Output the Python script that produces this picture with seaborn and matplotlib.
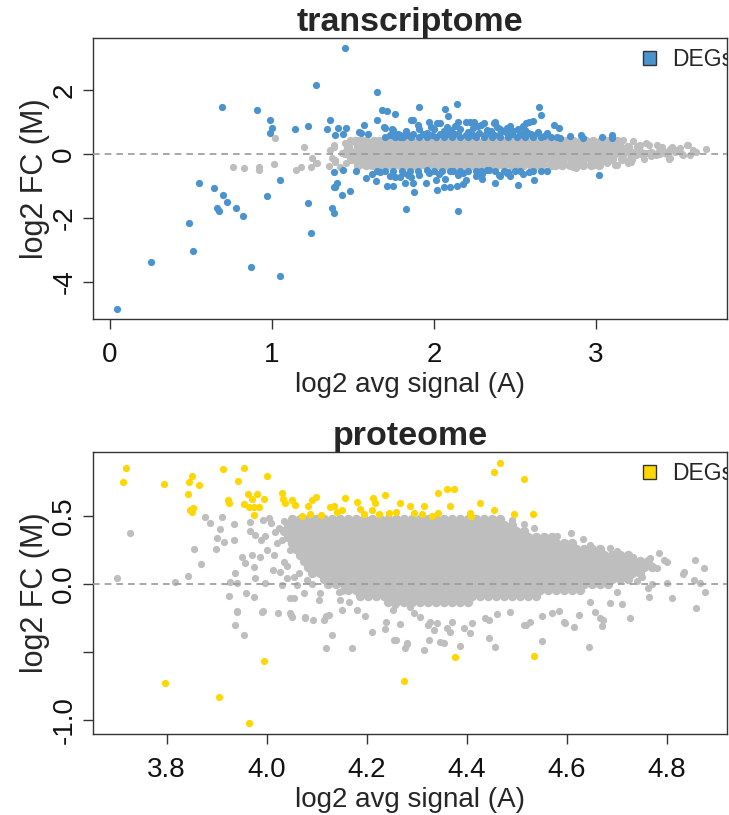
import pandas as pd
import seaborn as sns
import matplotlib.pyplot as plt
from matplotlib.patches import Patch

# ---- transcriptome (A = log2 avg signal, M = log2 FC) ----
trans_deg = [
    (0.04, -4.84), (0.25, -3.39), (0.51, -3.02), (0.49, -2.17), (0.55, -0.91), (0.64, -1.07),
    (0.70, -1.28), (0.72, -1.49), (0.66, -1.70), (0.67, -1.78), (0.78, -1.70), (0.82, -1.93),
    (0.87, -3.53), (1.05, -3.83), (0.97, -1.33), (1.05, -0.81), (1.22, -1.54), (1.24, -2.47),
    (1.37, -1.70), (1.38, -1.84), (1.39, -1.02), (1.40, -0.92), (1.43, -1.30), (1.48, -1.17),
    (1.38, -0.58), (1.44, -0.50), (1.52, -0.55), (1.62, -0.63), (1.67, -0.58), (1.71, -1.00),
    (1.75, -0.99), (1.82, -0.90), (1.83, -1.73), (1.88, -1.19), (1.38, -1.04),
    (1.45, 3.30), (1.27, 2.14), (1.65, 1.94), (0.69, 1.46), (0.91, 1.38), (0.99, 1.06),
    (1.00, 0.82), (0.99, 0.66), (1.14, 0.78), (1.22, 0.88), (1.36, 1.06), (1.34, 0.78),
    (1.41, 0.82), (1.46, 0.82), (1.39, 0.59), (1.55, 0.66), (1.57, 0.89), (1.59, 0.62),
    (1.65, 1.06), (1.68, 1.38), (1.71, 1.34), (1.76, 1.24), (1.87, 1.05), (1.70, 0.81),
    (1.74, 0.79), (1.75, 0.59), (1.79, 0.54), (1.83, 0.65), (1.91, 1.46), (1.44, 0.63),
    (1.54, 0.67), (1.69, 0.83), (1.75, 0.75), (1.83, 0.73),
    (2.07, 1.40), (2.14, 1.56), (2.09, 1.17), (2.02, 0.96), (2.22, 1.01), (2.31, 0.98),
    (2.39, 0.85), (2.59, 1.01), (2.65, 1.48), (2.66, 1.23), (2.57, 0.96), (2.74, 0.91),
    (2.77, 0.80), (2.91, 0.59), (3.04, 0.54), (3.10, 0.59), (3.10, 0.51), (2.92, 0.51),
    (2.78, 0.51), (2.76, 0.53), (2.70, 0.65), (2.61, 1.04), (2.55, 0.88), (2.38, 0.99),
    (2.45, 0.80), (1.97, 0.99), (2.04, 0.96), (2.15, 0.99), (2.20, 1.01), (2.25, 0.99),
    (2.29, 0.91), (2.37, 0.96), (1.91, 0.78), (2.00, 0.77), (2.08, 0.83), (2.16, 0.77),
    (2.24, 0.80), (2.33, 0.75), (2.41, 0.77), (1.79, 0.59), (1.87, 0.63), (1.96, 0.65),
    (2.04, 0.63), (2.12, 0.65), (2.20, 0.59), (2.28, 0.65), (2.37, 0.59), (2.45, 0.65),
    (1.73, 0.59), (1.98, 0.85), (2.10, 0.75), (2.49, 0.70), (2.53, 0.62), (2.58, 0.66),
    (2.62, 0.58), (2.68, 0.55), (2.47, 0.88), (2.52, 0.78), (2.43, 0.72), (2.13, 0.88),
    (2.27, 0.86), (2.35, 0.70), (1.90, 0.90), (2.06, 0.70), (2.21, 0.69), (2.56, 0.74),
    (2.64, 0.67), (1.86, 1.06),
    (1.70, 0.53), (1.76, 0.53), (1.81, 0.52), (1.86, 0.54), (1.91, 0.53), (1.96, 0.52),
    (2.01, 0.54), (2.06, 0.53), (2.11, 0.52), (2.16, 0.54), (2.21, 0.53), (2.26, 0.52),
    (2.31, 0.54), (2.36, 0.53), (2.41, 0.52), (2.46, 0.54), (2.51, 0.53), (2.56, 0.52),
    (2.61, 0.54), (2.66, 0.53), (2.72, 0.52), (2.84, 0.55),
    (1.78, 0.62), (1.84, 0.60), (1.93, 0.61), (1.99, 0.60), (2.08, 0.61), (2.15, 0.62),
    (2.24, 0.60), (2.32, 0.62), (2.40, 0.60), (2.48, 0.61), (2.55, 0.59), (2.60, 0.63),
    (1.73, -0.69), (1.76, -0.73), (1.79, -0.71), (1.84, -0.66), (1.86, -0.73), (1.91, -0.66),
    (1.96, -0.50), (2.01, -0.83), (2.07, -0.79), (2.12, -0.55), (2.15, -0.66), (2.20, -0.83),
    (2.26, -0.69), (2.33, -0.50), (2.40, -0.66), (2.46, -0.58), (1.87, -0.92), (2.02, -1.13),
    (2.06, -1.02), (2.10, -1.02), (2.14, -1.00), (2.15, -1.77), (2.34, -0.51), (2.41, -0.68),
    (2.47, -0.68), (2.52, -0.97), (2.59, -0.57), (2.62, -0.81), (2.66, -0.53), (3.02, -0.67),
    (2.55, -0.62), (2.70, -0.52), (2.30, -0.80), (2.38, -0.90), (2.18, -0.95), (1.95, -0.90),
    (1.64, -0.85), (1.58, -0.75),
    (1.65, -0.52), (1.70, -0.54), (1.75, -0.52), (1.80, -0.53), (1.85, -0.52), (1.90, -0.54),
    (2.00, -0.53), (2.05, -0.52), (2.10, -0.54), (2.16, -0.52), (2.21, -0.53), (2.26, -0.52),
    (2.29, -0.54), (2.38, -0.53), (2.43, -0.52), (2.50, -0.54), (2.53, -0.52), (2.61, -0.53),
    (1.81, -0.60), (1.97, -0.61), (2.03, -0.62), (2.18, -0.60), (2.30, -0.62), (2.45, -0.61),
]

trans_gray_sparse = [
    (0.76, -0.40), (0.83, -0.45), (0.92, -0.42), (0.92, -0.50), (1.01, -0.31), (1.02, 0.49),
    (1.15, -0.49), (1.18, -0.40), (1.20, 0.21), (1.24, -0.42), (1.25, -0.14), (1.27, -0.27),
    (1.28, -0.29), (1.35, -0.38), (1.36, 0.13), (1.37, -0.13), (1.38, 0.23), (1.38, 0.28),
    (1.39, -0.24), (1.39, -0.19), (1.43, 0.02), (1.45, 0.33), (1.48, 0.44), (1.50, -0.13),
    (1.54, 0.44), (1.55, 0.23), (1.42, -0.40), (1.46, -0.30),
    (3.07, -0.27), (3.13, -0.34), (3.12, -0.34), (3.17, 0.44), (3.20, -0.29), (3.22, -0.24),
    (3.23, 0.39), (3.23, 0.02), (3.25, -0.03), (3.27, 0.28), (3.31, 0.33), (3.31, 0.04),
    (3.32, 0.02), (3.33, 0.28), (3.34, -0.07), (3.38, 0.28), (3.39, 0.23), (3.40, 0.02),
    (3.41, 0.23), (3.41, 0.11), (3.43, 0.07), (3.45, -0.17), (3.46, 0.16), (3.46, -0.14),
    (3.47, 0.15), (3.49, 0.10), (3.49, 0.06), (3.50, 0.13), (3.53, 0.00), (3.54, -0.03),
    (3.56, 0.28), (3.57, 0.28), (3.58, -0.05), (3.68, 0.15), (2.88, -0.45), (2.86, -0.40),
    (2.99, -0.34), (3.05, 0.45), (3.09, 0.40), (3.15, 0.30), (3.30, -0.15), (3.37, -0.05),
    (3.47, 0.22), (3.52, 0.18), (3.60, 0.12), (3.62, 0.05),
]

# dense band, one list of A values per M level
trans_gray_rows = {
    0.40: [1.51, 1.55, 1.58, 1.63, 1.66, 1.71, 1.74, 1.78, 1.83, 1.86, 1.90, 1.95, 1.98, 2.02,
           2.07, 2.10, 2.14, 2.19, 2.22, 2.26, 2.31, 2.34, 2.38, 2.43, 2.46, 2.50, 2.55, 2.58,
           2.62, 2.67, 2.70, 2.74, 2.79, 2.82, 2.86, 2.91, 2.94, 2.98, 3.03, 3.08, 3.13],
    0.21: [1.47, 1.53, 1.56, 1.61, 1.64, 1.68, 1.73, 1.76, 1.80, 1.85, 1.88, 1.92, 1.97, 2.00,
           2.04, 2.09, 2.12, 2.16, 2.21, 2.24, 2.28, 2.33, 2.36, 2.40, 2.45, 2.48, 2.52, 2.57,
           2.60, 2.64, 2.69, 2.72, 2.76, 2.81, 2.84, 2.88, 2.93, 2.96, 3.00, 3.05, 3.10, 3.15,
           3.20, 3.26],
    0.02: [1.45, 1.50, 1.54, 1.58, 1.63, 1.66, 1.70, 1.75, 1.78, 1.82, 1.87, 1.90, 1.94, 1.99,
           2.02, 2.06, 2.11, 2.14, 2.18, 2.23, 2.26, 2.30, 2.35, 2.38, 2.42, 2.47, 2.50, 2.54,
           2.59, 2.62, 2.66, 2.71, 2.74, 2.78, 2.83, 2.86, 2.90, 2.95, 2.98, 3.02, 3.07, 3.12,
           3.17, 3.22, 3.28, 3.34, 3.39, 3.44],
    -0.17: [1.49, 1.52, 1.57, 1.60, 1.65, 1.68, 1.72, 1.77, 1.80, 1.84, 1.89, 1.92, 1.96, 2.01,
            2.04, 2.08, 2.13, 2.16, 2.20, 2.25, 2.28, 2.32, 2.37, 2.40, 2.44, 2.49, 2.52, 2.56,
            2.61, 2.64, 2.68, 2.73, 2.76, 2.80, 2.85, 2.88, 2.92, 2.97, 3.00, 3.05, 3.10, 3.16,
            3.22],
    -0.36: [1.53, 1.58, 1.62, 1.67, 1.71, 1.75, 1.79, 1.83, 1.88, 1.91, 1.95, 2.00, 2.03, 2.07,
            2.12, 2.15, 2.19, 2.24, 2.27, 2.31, 2.36, 2.39, 2.43, 2.48, 2.51, 2.55, 2.60, 2.63,
            2.67, 2.72, 2.75, 2.79, 2.84, 2.87, 2.92, 2.97, 3.02],
}

# ---- proteome ----
prot_deg = [
    (3.718, 0.855), (3.712, 0.748), (3.794, 0.733), (3.850, 0.797), (3.844, 0.752), (3.864, 0.728),
    (3.842, 0.662), (3.847, 0.540), (3.853, 0.555), (3.850, 0.530), (3.912, 0.846), (3.955, 0.855),
    (3.942, 0.755), (4.000, 0.797), (3.922, 0.618), (3.924, 0.598), (3.963, 0.660), (3.980, 0.662),
    (3.970, 0.623), (3.955, 0.588), (3.964, 0.568), (3.974, 0.564), (3.984, 0.564), (3.995, 0.625),
    (3.974, 0.507), (4.030, 0.667), (4.032, 0.623), (4.037, 0.598), (4.050, 0.618), (4.057, 0.581),
    (4.071, 0.502), (4.087, 0.515), (4.109, 0.507), (4.082, 0.574), (4.090, 0.618), (4.099, 0.637),
    (4.127, 0.564), (4.134, 0.574), (4.140, 0.532), (4.150, 0.544), (4.156, 0.635), (4.180, 0.600),
    (4.186, 0.549), (4.194, 0.515), (4.212, 0.630), (4.217, 0.598), (4.210, 0.544), (4.224, 0.515),
    (4.237, 0.654), (4.244, 0.520), (4.259, 0.532), (4.266, 0.598), (3.994, -0.566), (3.796, -0.730),
    (3.905, -0.833), (3.965, -1.024), (4.275, -0.711), (4.467, 0.892), (4.455, 0.821), (4.515, 0.772),
    (4.342, 0.669), (4.360, 0.700), (4.375, 0.700), (4.287, 0.576), (4.314, 0.574), (4.366, 0.574),
    (4.427, 0.598), (4.455, 0.544), (4.495, 0.512), (4.532, 0.512), (4.294, 0.520), (4.310, 0.512),
    (4.330, 0.502), (4.342, 0.520), (4.407, 0.520), (4.409, 0.502), (4.377, -0.537), (4.534, -0.527),
]

prot_gray_sparse = [
    (3.727, 0.377), (3.700, 0.042), (3.817, 0.017), (3.842, 0.061), (3.854, 0.257), (3.868, 0.147),
    (3.877, 0.495), (3.887, 0.446), (3.900, 0.340), (3.910, 0.495), (3.907, 0.402), (3.914, 0.311),
    (3.898, 0.257), (3.925, -0.086), (3.927, 0.017), (3.937, 0.078), (3.935, 0.441), (3.934, 0.324),
    (3.940, -0.196), (3.936, -0.300), (3.955, -0.375), (3.940, 0.005), (3.950, 0.201), (3.957, 0.152),
    (3.959, -0.068), (3.970, 0.213), (3.967, 0.458), (3.974, -0.093), (3.977, 0.042), (3.977, 0.360),
    (3.967, 0.392), (3.974, 0.127), (3.987, 0.201), (3.988, 0.324), (3.992, -0.199), (3.992, 0.471),
    (3.997, 0.005), (3.997, 0.353), (4.004, 0.483), (4.008, 0.446), (4.014, 0.213), (4.017, 0.385),
    (4.024, 0.409), (4.027, 0.090), (4.030, 0.324), (4.030, -0.007), (4.034, 0.164), (4.040, 0.042),
    (4.046, -0.105), (4.054, -0.105), (4.047, -0.216), (4.050, -0.240), (4.060, -0.007), (4.074, -0.068),
    (4.076, -0.240), (4.092, -0.265), (4.104, -0.118), (4.107, -0.068), (4.115, -0.265), (4.124, -0.228),
    (4.130, -0.375), (4.119, -0.473), (4.144, -0.056), (4.146, -0.118), (4.150, -0.050), (4.164, -0.130),
    (4.170, -0.468), (4.180, -0.191), (4.197, -0.233), (4.210, -0.355), (4.237, -0.333), (4.238, -0.279),
    (4.255, -0.412), (4.267, -0.296), (4.277, -0.473), (4.253, -0.191), (4.256, -0.155),
    (4.047, 0.250), (4.040, 0.130), (4.055, 0.050), (4.065, 0.080), (4.080, 0.030), (4.090, 0.000),
    (4.000, 0.250), (4.012, 0.100), (4.020, 0.300), (4.035, 0.460), (4.045, 0.380),
    (4.287, -0.167), (4.294, -0.216), (4.307, -0.240), (4.327, -0.277), (4.340, -0.289), (4.370, -0.277),
    (4.394, -0.326), (4.410, -0.289), (4.437, -0.250), (4.444, -0.262), (4.460, -0.221), (4.487, -0.203),
    (4.514, -0.301), (4.527, -0.277), (4.550, -0.233), (4.570, -0.216), (4.584, -0.199), (4.594, -0.277),
    (4.614, -0.314), (4.624, -0.228), (4.647, -0.130), (4.657, -0.208), (4.667, -0.252), (4.670, -0.309),
    (4.687, -0.142), (4.710, -0.147), (4.727, -0.248), (4.280, -0.436), (4.314, -0.485), (4.324, -0.412),
    (4.347, -0.424), (4.354, -0.436), (4.387, -0.456), (4.407, -0.358), (4.444, -0.400), (4.457, -0.461),
    (4.550, -0.417), (4.644, -0.461), (4.367, -0.351), (4.334, -0.340), (4.258, -0.412), (4.281, -0.441),
    (4.323, -0.301), (4.360, -0.326), (4.518, -0.301), (4.597, -0.289), (4.672, -0.265),
    (3.941, -0.204), (3.991, -0.204), (4.022, -0.216), (4.048, -0.228), (4.076, -0.252), (4.118, -0.235),
    (4.151, -0.191),
    (4.784, 0.225), (4.857, 0.176), (4.874, 0.115), (4.834, 0.090), (4.832, 0.074), (4.854, 0.029),
    (4.867, 0.005), (4.877, -0.056), (4.858, -0.179), (4.800, 0.005), (4.810, -0.100), (4.764, -0.093),
    (4.762, -0.032), (4.794, 0.176), (4.800, 0.164), (4.767, 0.189), (4.733, 0.200), (4.724, 0.176),
    (4.747, 0.152), (4.609, 0.377), (4.632, 0.329), (4.647, 0.287), (4.686, 0.262), (4.667, 0.200),
    (4.710, 0.189), (4.720, 0.206), (4.557, 0.348), (4.580, 0.353), (4.560, 0.292), (4.700, 0.240),
    (4.740, 0.100), (4.750, 0.050), (4.780, 0.120), (4.740, 0.020), (4.700, -0.060), (4.770, 0.000),
    (4.490, 0.470), (4.515, 0.440), (4.535, 0.410),
]

prot_gray_rows = {
    0.480: [4.050, 4.066, 4.082, 4.098, 4.114, 4.130, 4.146, 4.162, 4.178, 4.194, 4.210, 4.226,
            4.242, 4.258, 4.274, 4.290, 4.306, 4.322, 4.338, 4.354, 4.370, 4.386, 4.402, 4.418,
            4.434, 4.450, 4.466],
    0.436: [4.042, 4.058, 4.074, 4.090, 4.106, 4.122, 4.138, 4.154, 4.170, 4.186, 4.202, 4.218,
            4.234, 4.250, 4.266, 4.282, 4.298, 4.314, 4.330, 4.346, 4.362, 4.378, 4.394, 4.410,
            4.426, 4.442, 4.458, 4.474, 4.490],
    0.392: [4.034, 4.050, 4.066, 4.082, 4.098, 4.114, 4.130, 4.146, 4.162, 4.178, 4.194, 4.210,
            4.226, 4.242, 4.258, 4.274, 4.290, 4.306, 4.322, 4.338, 4.354, 4.370, 4.386, 4.402,
            4.418, 4.434, 4.450, 4.466, 4.482, 4.498, 4.514],
    0.348: [4.042, 4.058, 4.074, 4.090, 4.106, 4.122, 4.138, 4.154, 4.170, 4.186, 4.202, 4.218,
            4.234, 4.250, 4.266, 4.282, 4.298, 4.314, 4.330, 4.346, 4.362, 4.378, 4.394, 4.410,
            4.426, 4.442, 4.458, 4.474, 4.490, 4.506, 4.522, 4.538, 4.554, 4.570],
    0.304: [4.050, 4.066, 4.082, 4.098, 4.114, 4.130, 4.146, 4.162, 4.178, 4.194, 4.210, 4.226,
            4.242, 4.258, 4.274, 4.290, 4.306, 4.322, 4.338, 4.354, 4.370, 4.386, 4.402, 4.418,
            4.434, 4.450, 4.466, 4.482, 4.498, 4.514, 4.530, 4.546, 4.562, 4.578, 4.594, 4.610],
    0.260: [4.058, 4.074, 4.090, 4.106, 4.122, 4.138, 4.154, 4.170, 4.186, 4.202, 4.218, 4.234,
            4.250, 4.266, 4.282, 4.298, 4.314, 4.330, 4.346, 4.362, 4.378, 4.394, 4.410, 4.426,
            4.442, 4.458, 4.474, 4.490, 4.506, 4.522, 4.538, 4.554, 4.570, 4.586, 4.602, 4.618,
            4.634, 4.650, 4.666],
    0.216: [4.066, 4.082, 4.098, 4.114, 4.130, 4.146, 4.162, 4.178, 4.194, 4.210, 4.226, 4.242,
            4.258, 4.274, 4.290, 4.306, 4.322, 4.338, 4.354, 4.370, 4.386, 4.402, 4.418, 4.434,
            4.450, 4.466, 4.482, 4.498, 4.514, 4.530, 4.546, 4.562, 4.578, 4.594, 4.610, 4.626,
            4.642, 4.658, 4.674, 4.690, 4.706, 4.722],
    0.172: [4.074, 4.090, 4.106, 4.122, 4.138, 4.154, 4.170, 4.186, 4.202, 4.218, 4.234, 4.250,
            4.266, 4.282, 4.298, 4.314, 4.330, 4.346, 4.362, 4.378, 4.394, 4.410, 4.426, 4.442,
            4.458, 4.474, 4.490, 4.506, 4.522, 4.538, 4.554, 4.570, 4.586, 4.602, 4.618, 4.634,
            4.650, 4.666, 4.682, 4.698, 4.714, 4.730, 4.746, 4.762],
    0.128: [4.082, 4.098, 4.114, 4.130, 4.146, 4.162, 4.178, 4.194, 4.210, 4.226, 4.242, 4.258,
            4.274, 4.290, 4.306, 4.322, 4.338, 4.354, 4.370, 4.386, 4.402, 4.418, 4.434, 4.450,
            4.466, 4.482, 4.498, 4.514, 4.530, 4.546, 4.562, 4.578, 4.594, 4.610, 4.626, 4.642,
            4.658, 4.674, 4.690, 4.706, 4.722, 4.738, 4.754, 4.770],
    0.084: [4.090, 4.106, 4.122, 4.138, 4.154, 4.170, 4.186, 4.202, 4.218, 4.234, 4.250, 4.266,
            4.282, 4.298, 4.314, 4.330, 4.346, 4.362, 4.378, 4.394, 4.410, 4.426, 4.442, 4.458,
            4.474, 4.490, 4.506, 4.522, 4.538, 4.554, 4.570, 4.586, 4.602, 4.618, 4.634, 4.650,
            4.666, 4.682, 4.698, 4.714, 4.730, 4.746],
    0.040: [4.114, 4.130, 4.146, 4.162, 4.178, 4.194, 4.210, 4.226, 4.242, 4.258, 4.274, 4.290,
            4.306, 4.322, 4.338, 4.354, 4.370, 4.386, 4.402, 4.418, 4.434, 4.450, 4.466, 4.482,
            4.498, 4.514, 4.530, 4.546, 4.562, 4.578, 4.594, 4.610, 4.626, 4.642, 4.658, 4.674,
            4.690, 4.706, 4.722],
    -0.004: [4.122, 4.138, 4.154, 4.170, 4.186, 4.202, 4.218, 4.234, 4.250, 4.266, 4.282, 4.298,
             4.314, 4.330, 4.346, 4.362, 4.378, 4.394, 4.410, 4.426, 4.442, 4.458, 4.474, 4.490,
             4.506, 4.522, 4.538, 4.554, 4.570, 4.586, 4.602, 4.618, 4.634, 4.650, 4.666, 4.682],
    -0.048: [4.162, 4.178, 4.194, 4.210, 4.226, 4.242, 4.258, 4.274, 4.290, 4.306, 4.322, 4.338,
             4.354, 4.370, 4.386, 4.402, 4.418, 4.434, 4.450, 4.466, 4.482, 4.498, 4.514, 4.530,
             4.546, 4.562, 4.578, 4.594, 4.610, 4.626],
    -0.092: [4.186, 4.202, 4.218, 4.234, 4.250, 4.266, 4.282, 4.298, 4.314, 4.330, 4.346, 4.362,
             4.378, 4.394, 4.410, 4.426, 4.442, 4.458, 4.474, 4.490, 4.506, 4.522, 4.538],
    -0.136: [4.242, 4.258, 4.274, 4.290, 4.306, 4.322, 4.338, 4.354, 4.370, 4.386, 4.402],
}

GRAY = "#bebebe"
BLUE = "#4a93cf"
GOLD = "#ffd700"


def pairs_df(pairs):
    return pd.DataFrame(pairs, columns=["A", "M"])


def rows_df(rows):
    return pd.DataFrame([(a, m) for m, xs in rows.items() for a in xs], columns=["A", "M"])


def ma_panel(ax, core, sparse, deg, color, title, xlim, ylim, xticks, xlabels, yticks, ylabels):
    sns.scatterplot(data=rows_df(core), x="A", y="M", color=GRAY, s=46, linewidth=0,
                    ax=ax, legend=False, zorder=2)
    sns.scatterplot(data=pairs_df(sparse), x="A", y="M", color=GRAY, s=27, linewidth=0,
                    ax=ax, legend=False, zorder=2)
    ax.axhline(0, color="#9a9a9a", lw=1.2, ls=(0, (4, 3)), zorder=3)
    sns.scatterplot(data=pairs_df(deg), x="A", y="M", color=color, s=27, linewidth=0,
                    ax=ax, legend=False, zorder=4)

    ax.set_xlim(*xlim)
    ax.set_ylim(*ylim)
    ax.set_xticks(xticks)
    ax.set_xticklabels(xlabels)
    ax.set_yticks(yticks)
    ax.set_yticklabels(ylabels, rotation=90, va="center")
    ax.tick_params(axis="both", direction="out", length=7.5, width=1.0, color="#333333",
                   labelsize=20, labelcolor="#111111")
    ax.tick_params(axis="x", pad=9)
    ax.tick_params(axis="y", pad=3.8)
    for sp in ax.spines.values():
        sp.set_color("#333333")
        sp.set_linewidth(1.0)

    ax.set_xlabel("log2 avg signal (A)", fontsize=20, labelpad=3)
    ax.set_ylabel("log2 FC (M)", fontsize=22, labelpad=1)
    ax.set_title(title, fontsize=24.5, fontweight="bold", pad=1)

    h = Patch(facecolor=color, edgecolor="#333333", linewidth=1)
    leg = ax.legend(handles=[h], labels=["DEGs"], loc="center left",
                    bbox_to_anchor=(0.8675, 0.922), frameon=False, fontsize=16.5,
                    handlelength=0.55, handleheight=0.55, handletextpad=0.7,
                    borderpad=0, borderaxespad=0)
    for t in leg.get_texts():
        t.set_clip_box(ax.bbox)
        t.set_clip_on(True)


sns.set_style("ticks")
plt.rcParams["font.family"] = ["Liberation Sans", "DejaVu Sans"]

fig = plt.figure(figsize=(7.29, 8.15), dpi=100)
ax1 = fig.add_axes([0.1276, 0.6082, 0.8697, 0.3455])
ax2 = fig.add_axes([0.1276, 0.0994, 0.8697, 0.3460])

ma_panel(ax1, trans_gray_rows, trans_gray_sparse, trans_deg, BLUE, "transcriptome",
         (-0.105, 3.81), (-5.17, 3.63), [0, 1, 2, 3], ["0", "1", "2", "3"],
         [-4, -2, 0, 2], ["-4", "-2", "0", "2"])
ma_panel(ax2, prot_gray_rows, prot_gray_sparse, prot_deg, GOLD, "proteome",
         (3.653, 4.921), (-1.103, 0.97), [3.8, 4.0, 4.2, 4.4, 4.6, 4.8],
         ["3.8", "4.0", "4.2", "4.4", "4.6", "4.8"],
         [-1.0, -0.5, 0.0, 0.5], ["-1.0", "", "0.0", "0.5"])

fig.savefig("out.png", dpi=100)
